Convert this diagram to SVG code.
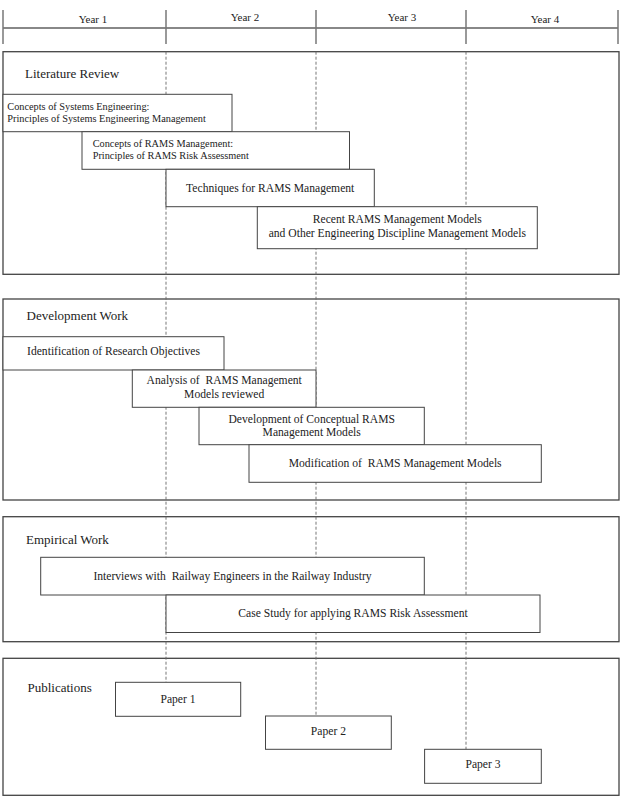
<svg xmlns="http://www.w3.org/2000/svg" width="622" height="796" viewBox="0 0 622 796">
<style>
text{font-family:"Liberation Serif","Times New Roman",serif;fill:#222;white-space:pre}
.yr{font-size:11px;text-anchor:middle}
.sec{font-size:13px}
.sm{font-size:10.3px}
.md{font-size:11.6px}
.c{text-anchor:middle}
.outer{fill:none;stroke:#444;stroke-width:1.3}
.box{fill:#fff;stroke:#444;stroke-width:1}
.tick{stroke:#777;stroke-width:1.5}
.dash{stroke:#666;stroke-width:0.9;stroke-dasharray:3 2;fill:none}
</style>
<rect width="622" height="796" fill="#fff"/>
<g id="header">
<line x1="3" y1="28" x2="618" y2="28" stroke="#888" stroke-width="2"/>
<line class="tick" x1="3" y1="10" x2="3" y2="44"/>
<line class="tick" x1="166" y1="10" x2="166" y2="44"/>
<line class="tick" x1="316" y1="10" x2="316" y2="44"/>
<line class="tick" x1="466" y1="10" x2="466" y2="44"/>
<line class="tick" x1="618" y1="10" x2="618" y2="44"/>
<text class="yr" x="93" y="22.5">Year 1</text>
<text class="yr" x="245" y="20.5">Year 2</text>
<text class="yr" x="402" y="20.5">Year 3</text>
<text class="yr" x="545" y="22.5">Year 4</text>
</g>
<g id="sections">
<rect id="literature-review" class="outer" x="3" y="51.7" width="616" height="222.6"/>
<rect id="development-work" class="outer" x="3" y="299" width="616" height="201"/>
<rect id="empirical-work" class="outer" x="3" y="516.7" width="616" height="125"/>
<rect id="publications" class="outer" x="3" y="658.3" width="616" height="137"/>
<text class="sec" x="25" y="78">Literature Review</text>
<text class="sec" x="26.5" y="319.5">Development Work</text>
<text class="sec" x="26" y="544">Empirical Work</text>
<text class="sec" x="27.5" y="691.7">Publications</text>
</g>
<g id="connectors">
<line class="dash" x1="166" y1="51.7" x2="166" y2="682.3"/>
<line class="dash" x1="316" y1="51.7" x2="316" y2="716"/>
<line class="dash" x1="466" y1="51.7" x2="466" y2="749.3"/>
</g>
<g id="lit1"><rect class="box" x="3" y="94.3" width="229" height="37.4"/>
<text class="sm" x="7.3" y="110">Concepts of Systems Engineering:</text>
<text class="sm" x="7.3" y="121.7">Principles of Systems Engineering Management</text></g>
<g id="lit2"><rect class="box" x="82" y="131.7" width="267.5" height="37.6"/>
<text class="sm" x="92.7" y="147.3">Concepts of RAMS Management:</text>
<text class="sm" x="92.7" y="159">Principles of RAMS Risk Assessment</text></g>
<g id="lit3"><rect class="box" x="166" y="169.3" width="208.3" height="37.4"/>
<text class="md c" x="270.2" y="191.7">Techniques for RAMS Management</text></g>
<g id="lit4"><rect class="box" x="257.3" y="206.7" width="280" height="42"/>
<text class="md c" x="397.3" y="223.3">Recent RAMS Management Models</text>
<text class="md c" x="397.3" y="237.3">and Other Engineering Discipline Management Models</text></g>
<g id="dev1"><rect class="box" x="3" y="336.7" width="221" height="33.3"/>
<text class="md c" x="113.5" y="355.3">Identification of Research Objectives</text></g>
<g id="dev2"><rect class="box" x="132.3" y="370" width="183.7" height="37.3"/>
<text class="md c" x="224.2" y="384">Analysis of  RAMS Management</text>
<text class="md c" x="224.2" y="398.3">Models reviewed</text></g>
<g id="dev3"><rect class="box" x="199" y="407.3" width="225.3" height="37.4"/>
<text class="md c" x="311.7" y="422.7">Development of Conceptual RAMS</text>
<text class="md c" x="311.7" y="436">Management Models</text></g>
<g id="dev4"><rect class="box" x="249" y="444.7" width="292.3" height="37.6"/>
<text class="md c" x="395.2" y="466.7">Modification of  RAMS Management Models</text></g>
<g id="emp1"><rect class="box" x="40.7" y="557.3" width="383.6" height="37.7"/>
<text class="md c" x="232.5" y="580">Interviews with  Railway Engineers in the Railway Industry</text></g>
<g id="emp2"><rect class="box" x="166" y="595" width="374" height="37.5"/>
<text class="md c" x="353" y="617.3">Case Study for applying RAMS Risk Assessment</text></g>
<g id="paper1"><rect class="box" x="115.5" y="682.3" width="125.2" height="34"/>
<text class="md c" x="178" y="703.3">Paper 1</text></g>
<g id="paper2"><rect class="box" x="265.5" y="716" width="125.8" height="33.3"/>
<text class="md c" x="328.4" y="735">Paper 2</text></g>
<g id="paper3"><rect class="box" x="424.6" y="749.3" width="116.7" height="34"/>
<text class="md c" x="483" y="768.3">Paper 3</text></g>
</svg>
